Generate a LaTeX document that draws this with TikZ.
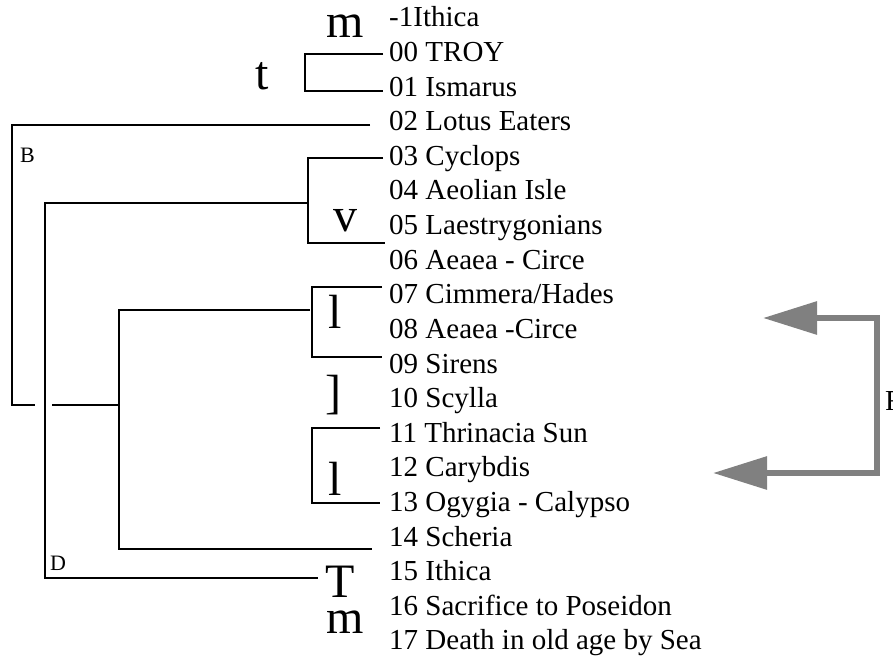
\documentclass[tikz,border=0pt]{standalone}
\usepackage{fontspec}
\setmainfont{Liberation Serif}
\usetikzlibrary{arrows.meta}
\begin{document}
\begin{tikzpicture}[x=1pt,y=-1pt,
  row/.style={anchor=base west,inner sep=0pt,font=\fontsize{29}{34}\selectfont},
  big/.style={anchor=base,inner sep=0pt,font=\fontsize{48}{50}\selectfont},
  small/.style={anchor=base west,inner sep=0pt,font=\fontsize{22}{24}\selectfont},
  tree/.style={line width=2pt,black},
  garrow/.style={line width=6pt,draw={rgb,255:red,128;green,128;blue,128},-{Triangle[length=54pt,width=32pt]}}]
\useasboundingbox (0,0) rectangle (893,660);
% rows
\foreach \t [count=\i from 0] in {-1Ithica,00 TROY,01 Ismarus,02 Lotus Eaters,03 Cyclops,04 Aeolian Isle,05 Laestrygonians,06 Aeaea - Circe,07 Cimmera/Hades,08 Aeaea -Circe,09 Sirens,10 Scylla,11 Thrinacia Sun,12 Carybdis,13 Ogygia - Calypso,14 Scheria,15 Ithica,16 Sacrifice to Poseidon,17 Death in old age by Sea}
  \node[row] (r\i) at (389,{27+34.6*\i}) {\t};
% big letters
\node[big] (m1) at (345,38) {m};
\node[big] (t1) at (262,90) {t};
\node[big] (v1) at (345,232) {v};
\node[big] (l1) at (335,328) {l};
\node[big] (br) at (333,408) {]};
\node[big] (l2) at (335,495) {l};
\node[big] (T1) at (340,597) {T};
\node[big] (m2) at (345,633) {m};
\node[small] (B) at (20,163) {B};
\node[small] (D) at (50,570) {D};
\node[row] (F) at (885,410) {F};
% tree lines
\draw[tree] (383,54) -- (305,54) -- (305,91) -- (383,91);
\draw[tree] (370,125) -- (12,125) -- (12,405) -- (35,405);
\draw[tree] (52,405) -- (119,405);
\draw[tree] (308,203) -- (45,203) -- (45,578) -- (318,578);
\draw[tree] (383,158) -- (308,158) -- (308,243) -- (385,243);
\draw[tree] (310,310) -- (119,310) -- (119,549) -- (372,549);
\draw[tree] (382,287) -- (312,287) -- (312,357) -- (382,357);
\draw[tree] (380,428) -- (312,428) -- (312,503) -- (380,503);
% gray arrows
\coordinate (ga) at (877,318);
\coordinate (gb) at (877,473);
\coordinate (gta) at (763,318);
\coordinate (gtb) at (713,473);
\draw[garrow,line cap=rect] (gb) -- (ga) -- (gta);
\draw[garrow] (gb) -- (gtb);
\end{tikzpicture}
\end{document}
